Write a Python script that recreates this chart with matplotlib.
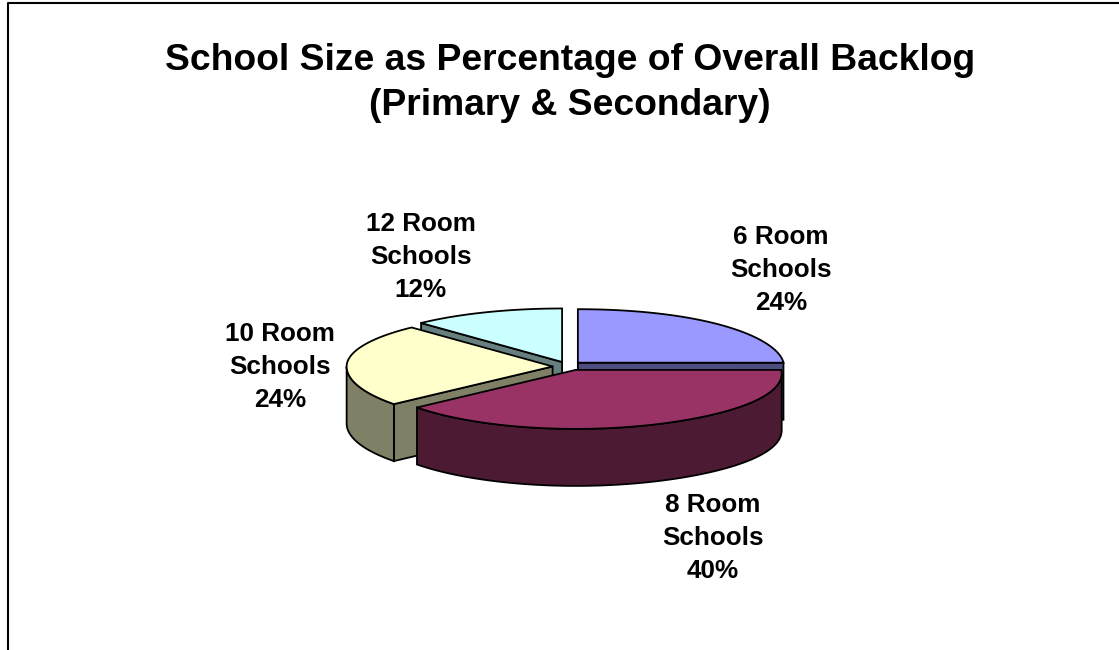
#!/usr/bin/env python3
"""Exploded 3D-look pie: school size as a share of the overall backlog."""
import numpy as np
import matplotlib
matplotlib.use("Agg")
import matplotlib.pyplot as plt

# ── Data ──────────────────────────────────────────────────────────────────────
CATEGORIES = ["6 Room Schools", "8 Room Schools", "10 Room Schools", "12 Room Schools"]
VALUES = [24, 40, 24, 12]
TITLE = "School Size as Percentage of Overall Backlog\n(Primary & Secondary)"

# ── Style ─────────────────────────────────────────────────────────────────────
TOP_COLORS = ["#9999FF", "#993366", "#FFFFCC", "#CCFFFF"]
WALL_COLORS = ["#4D4D80", "#4D1A33", "#808066", "#668080"]
EXPLODE = [15, 22, 15, 15]
NUDGE_Y = [0, 0, 1.5, 0]
LABEL_POS = [(781, 270), (713, 538), (280, 367), (421, 257)]
DRAW_ORDER = [3, 0, 2, 1]  # back slices first

CX, CY = 567.6, 365.2
RX, RY_BACK, RY_FRONT = 206, 53.5, 59
EXPLODE_Y = 0.23   # flattening of the explode offset
RIGHT_SAG = 3.4    # the right side of the disc sits a little lower (perspective)
DEPTH = 57
EDGE = 1.3


def rim(theta, cx, cy):
    """Screen position of a rim point, theta in degrees clockwise from 12 o'clock."""
    t = np.radians(theta)
    ry = np.where(np.cos(t) >= 0, RY_BACK, RY_FRONT)
    sag = RIGHT_SAG * np.clip(np.sin(t), 0, 1) ** 4
    return cx + RX * np.sin(t), cy - ry * np.cos(t) + sag


def draw_slice(ax, start, end, offset, nudge, top_color, wall_color):
    mid = np.radians((start + end) / 2)
    cx = CX + offset * np.sin(mid)
    cy = CY - offset * EXPLODE_Y * np.cos(mid) + nudge

    # radial cut faces, only those turned towards the viewer
    for theta, sign in ((start, -1), (end, 1)):
        if sign * np.sin(np.radians(theta)) > 1e-9:
            x, y = rim(theta, cx, cy)
            ax.fill([cx, x, x, cx], [cy, y, y + DEPTH, cy + DEPTH],
                    facecolor=wall_color, edgecolor="black", lw=EDGE, zorder=2)

    # outer wall, front half of the rim only
    a, b = max(start, 90), min(end, 270)
    if b > a:
        x, y = rim(np.linspace(a, b, 80), cx, cy)
        ax.fill(np.r_[x, x[::-1]], np.r_[y, y[::-1] + DEPTH],
                facecolor=wall_color, edgecolor="black", lw=EDGE, zorder=2)

    # top face
    x, y = rim(np.linspace(start, end, 120), cx, cy)
    ax.fill(np.r_[cx, x], np.r_[cy, y],
            facecolor=top_color, edgecolor="black", lw=EDGE, zorder=2)


def main():
    plt.rcParams["font.family"] = ["Liberation Sans", "DejaVu Sans"]
    fig = plt.figure(figsize=(11.19, 6.5), dpi=100)
    ax = fig.add_axes([0, 0, 1, 1])
    ax.set_xlim(0, 1119)
    ax.set_ylim(650, 0)
    ax.axis("off")

    # outer chart frame, runs off the bottom and right of the picture
    ax.plot([8, 8, 1130], [660, 3, 3], color="black", lw=1.5, zorder=1)

    edges = np.r_[0, np.cumsum(VALUES)] / sum(VALUES) * 360
    for i in DRAW_ORDER:
        draw_slice(ax, edges[i], edges[i + 1], EXPLODE[i], NUDGE_Y[i],
                   TOP_COLORS[i], WALL_COLORS[i])

    for name, val, (x, y) in zip(CATEGORIES, VALUES, LABEL_POS):
        room, schools = name.rsplit(" ", 1)
        ax.text(x, y, f"{room}\n{schools}\n{val}%", ha="center", va="center",
                fontsize=18.8, fontweight="bold", linespacing=1.46, zorder=3)

    ax.text(570, 83, TITLE, ha="center", va="center", fontsize=26.8,
            fontweight="bold", linespacing=1.39, zorder=3)

    fig.savefig("out.png", dpi=100)


if __name__ == "__main__":
    main()
